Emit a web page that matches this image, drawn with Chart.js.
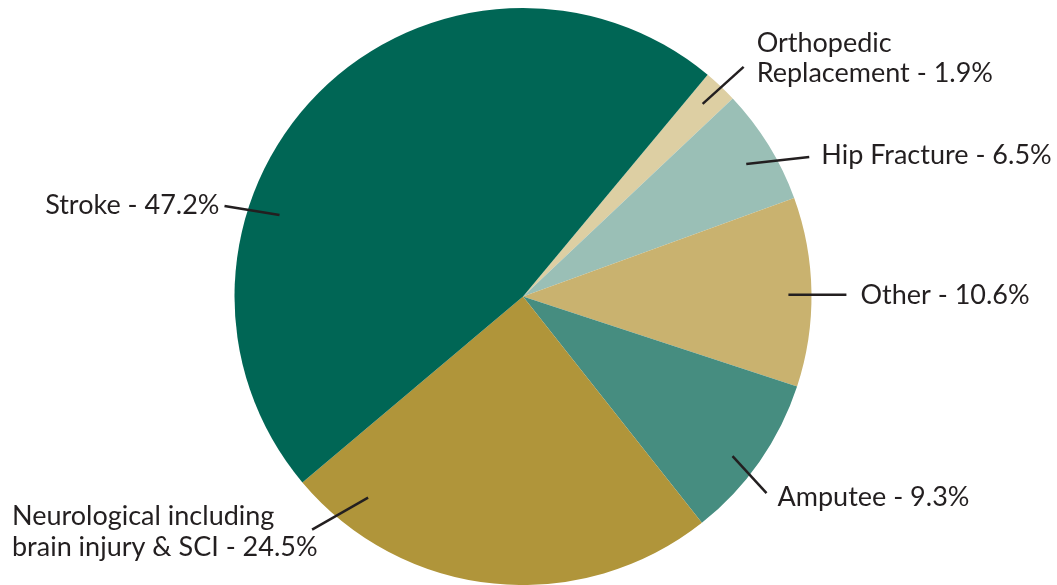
<!DOCTYPE html>
<html>
<head>
<meta charset="utf-8">
<script src="https://cdn.jsdelivr.net/npm/chart.js@4"></script>
<style>
  html, body { margin: 0; padding: 0; background: #ffffff; }
  #wrap { width: 1057px; height: 585px; position: relative; }
</style>
</head>
<body>
<div id="wrap"><canvas id="c"></canvas></div>
<script>
// ---- data ----
const categories = ["Orthopedic Replacement", "Hip Fracture", "Other", "Amputee", "Neurological including brain injury & SCI", "Stroke"];
const values = [1.9, 6.5, 10.6, 9.3, 24.5, 47.2];
const labelLines = [
  ["Orthopedic", "Replacement - 1.9%"],
  ["Hip Fracture - 6.5%"],
  ["Other - 10.6%"],
  ["Amputee - 9.3%"],
  ["Neurological including", "brain injury & SCI - 24.5%"],
  ["Stroke - 47.2%"]
];
const colors = ["#ddcfa3", "#9abfb6", "#c9b26f", "#468d80", "#b0953a", "#006655"];

// ---- label layout (leader line: inner point angle/fraction of radius, outer offset; text offset) ----
const layoutSpec = [
  { ang: 43.0, frac: 0.913, ox: 41, oy: -37, tx: 13, ty: -24, align: "left", lh: 30 },
  { ang: 59.3, frac: 0.90, ox: 63, oy: -7, tx: 12, ty: -2, align: "left", lh: 30 },
  { ang: 89.6, frac: 0.92, ox: 58, oy: 0, tx: 14, ty: 1, align: "left", lh: 30 },
  { ang: 127.3, frac: 0.913, ox: 34, oy: 37, tx: 11, ty: 4, align: "left", lh: 30 },
  { ang: 217.6, frac: 0.88, ox: -56, oy: 32, absX: 12, ty: -13, align: "left", lh: 31 },
  { ang: 288.5, frac: 0.89, ox: -55, oy: -9, tx: -5, ty: -1, align: "right", lh: 30 }
];

const labelPlugin = {
  id: "leaderLabels",
  afterDraw(chart) {
    const ctx = chart.ctx;
    const meta = chart.getDatasetMeta(0);
    const arc0 = meta.data[0];
    const cx = arc0.x, cy = arc0.y, R = arc0.outerRadius;
    ctx.save();
    ctx.strokeStyle = "#231f20";
    ctx.fillStyle = "#231f20";
    ctx.lineWidth = 2.5;
    ctx.font = "27px Lato, 'Open Sans', sans-serif";
    ctx.textBaseline = "middle";
    layoutSpec.forEach((s, i) => {
      const a = (s.ang - 90) * Math.PI / 180;
      const x1 = cx + Math.cos(a) * R * s.frac;
      const y1 = cy + Math.sin(a) * R * s.frac;
      const x2 = x1 + s.ox, y2 = y1 + s.oy;
      ctx.beginPath();
      ctx.moveTo(x1, y1);
      ctx.lineTo(x2, y2);
      ctx.stroke();
      ctx.textAlign = s.align;
      const tx = (s.absX !== undefined) ? s.absX : x2 + s.tx;
      labelLines[i].forEach((t, k) => {
        ctx.fillText(t, tx, y2 + s.ty + k * s.lh);
      });
    });
    ctx.restore();
  }
};

new Chart(document.getElementById("c"), {
  type: "pie",
  data: {
    labels: categories,
    datasets: [{
      data: values,
      backgroundColor: colors,
      borderWidth: 0
    }]
  },
  options: {
    responsive: true,
    maintainAspectRatio: false,
    animation: false,
    rotation: 39.8,
    layout: { padding: { top: 8, bottom: 0, left: 0, right: 11 } },
    plugins: {
      legend: { display: false },
      tooltip: { enabled: false }
    }
  },
  plugins: [labelPlugin]
});
</script>
</body>
</html>
